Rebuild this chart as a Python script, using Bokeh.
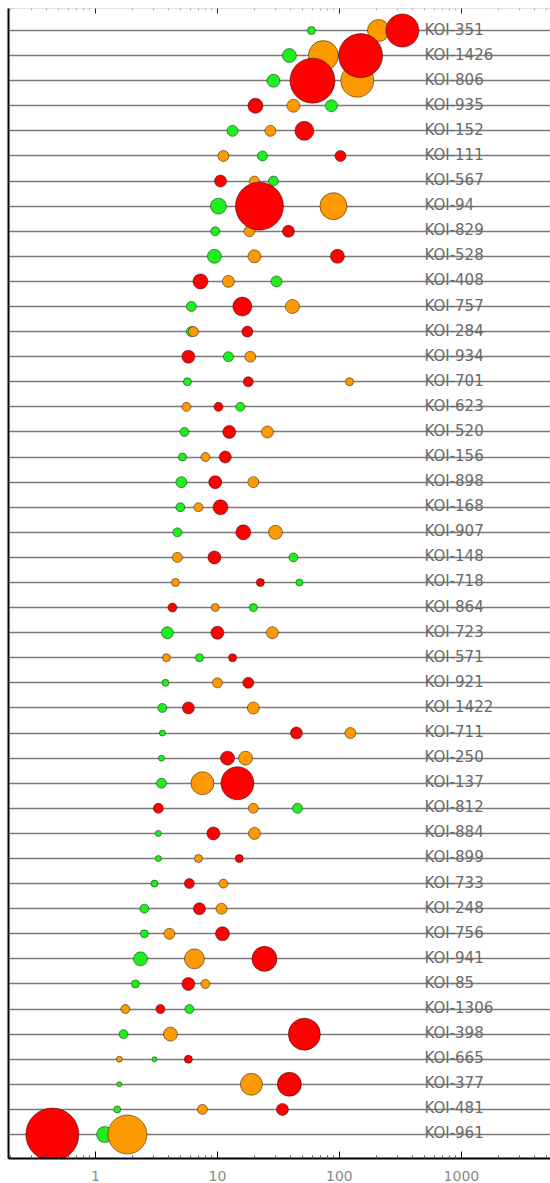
from bokeh.plotting import figure
from bokeh.models import FixedTicker, LogAxis, Range1d
from bokeh.core.properties import value
from bokeh.embed import file_html
from bokeh.resources import INLINE

# Rows, top to bottom
koi = ["KOI-351", "KOI-1426", "KOI-806", "KOI-935", "KOI-152", "KOI-111", "KOI-567",
       "KOI-94", "KOI-829", "KOI-528", "KOI-408", "KOI-757", "KOI-284", "KOI-934",
       "KOI-701", "KOI-623", "KOI-520", "KOI-156", "KOI-898", "KOI-168", "KOI-907",
       "KOI-148", "KOI-718", "KOI-864", "KOI-723", "KOI-571", "KOI-921", "KOI-1422",
       "KOI-711", "KOI-250", "KOI-137", "KOI-812", "KOI-884", "KOI-899", "KOI-733",
       "KOI-248", "KOI-756", "KOI-941", "KOI-85", "KOI-1306", "KOI-398", "KOI-665",
       "KOI-377", "KOI-481", "KOI-961"]

green_x = [58.9, 38.9, 28.8, 86.0, 13.3, 23.4, 28.8, 10.2, 9.6, 9.45, 30.5, 6.12, 6.12,
           12.3, 5.68, 15.4, 5.37, 5.17, 5.07, 4.97, 4.70, 42.0, 47.0, 19.7, 3.89, 7.12,
           3.75, 3.54, 3.54, 3.48, 3.48, 45.3, 3.28, 3.28, 3.05, 2.52, 2.52, 2.34, 2.13,
           5.89, 1.70, 3.05, 1.57, 1.51, 1.19]
green_mag = [8, 14, 13, 12, 11, 10, 10, 16, 9, 14, 11, 10, 10, 10, 8, 9, 9, 8, 11, 9, 9,
             9, 7, 8, 12, 8, 7, 9, 6, 6, 10, 10, 6, 6, 7, 9, 8, 14, 8, 9, 9, 5, 5, 7, 16]

orange_x = [209, 73.9, 140, 42.0, 27.2, 11.2, 20.1, 89.3, 18.3, 20.1, 12.3, 41.2, 6.36,
            18.6, 121, 5.57, 25.7, 7.97, 19.7, 6.99, 29.9, 4.70, 4.53, 9.6, 28.2, 3.82,
            10.0, 19.7, 123, 17.0, 7.54, 19.7, 20.1, 6.99, 11.2, 10.8, 4.04, 6.48, 7.97,
            1.76, 4.12, 1.57, 19.0, 7.54, 1.83]
orange_mag = [22, 30, 33, 13, 11, 11, 10, 27, 11, 13, 12, 14, 10, 11, 8, 9, 12, 9, 11, 9,
              14, 10, 8, 8, 12, 8, 10, 12, 11, 14, 23, 10, 12, 8, 9, 11, 11, 20, 9, 9, 14,
              6, 22, 10, 39]

red_x = [328, 149, 60.1, 20.5, 51.6, 102, 10.6, 22.1, 38.2, 96.3, 7.26, 16.0, 17.6, 5.78,
         17.9, 10.2, 12.5, 11.6, 9.6, 10.6, 16.3, 9.45, 22.5, 4.28, 10.0, 13.3, 17.9, 5.78,
         44.4, 12.1, 14.6, 3.28, 9.27, 15.1, 5.89, 7.12, 11.0, 24.3, 5.78, 3.41, 51.6,
         5.78, 38.9, 34.1, 0.444]
red_mag = [33, 44, 45, 15, 19, 11, 12, 48, 12, 14, 15, 19, 11, 13, 10, 9, 13, 12, 13, 15,
           15, 13, 8, 9, 13, 8, 11, 12, 12, 14, 33, 10, 13, 8, 10, 12, 14, 25, 13, 9, 32,
           8, 24, 12, 53]

x_major = [1, 10, 100, 1000]
x_tick_labels = ["1", "10", "100", "1000"]

n = len(koi)
assert all(len(a) == n for a in [green_x, green_mag, orange_x, orange_mag, red_x, red_mag])
rows = [n - 1 - i for i in range(n)]

SCALE = 1.0
minor = [m * 10.0 ** e for e in range(-1, 4) for m in range(2, 10) if m * 10.0 ** e < 6000]

p = figure(width=550, height=1183, x_axis_type="log",
           x_range=Range1d(0.194, 5370), y_range=Range1d(-0.957, n - 1 + 0.877),
           output_backend="svg", toolbar_location=None,
           min_border_left=8, min_border_right=0, min_border_top=8, min_border_bottom=0)
p.outline_line_color = None
p.background_fill_color = "white"
p.border_fill_color = "white"

# horizontal row lines
p.xgrid.grid_line_color = None
p.ygrid.ticker = FixedTicker(ticks=rows)
p.ygrid.grid_line_color = "#7a7a7a"
p.ygrid.grid_line_width = 1.6

# left axis (line only)
p.yaxis.ticker = FixedTicker(ticks=rows)
p.yaxis.major_label_overrides = {r: "" for r in rows}
p.yaxis.major_label_text_font_size = "6px"
p.yaxis.major_label_standoff = 0
p.yaxis.major_tick_in = 0
p.yaxis.major_tick_out = 0
p.yaxis.minor_tick_in = 0
p.yaxis.minor_tick_out = 0
p.yaxis.axis_line_color = "black"
p.yaxis.axis_line_width = 2

# bottom axis
ax = p.xaxis[0]
ax.ticker = FixedTicker(ticks=x_major, minor_ticks=minor)
ax.major_label_overrides = {t: s for t, s in zip(x_major, x_tick_labels)}
ax.major_tick_in = 7
ax.major_tick_out = 0
ax.minor_tick_in = 3
ax.minor_tick_out = 0
ax.axis_line_color = "black"
ax.axis_line_width = 2
ax.major_tick_line_color = "black"
ax.minor_tick_line_color = "#555555"
ax.major_label_text_color = "#8a8a8a"
ax.major_label_text_font = "DejaVu Sans"
ax.major_label_text_font_size = "14px"
ax.major_label_standoff = 12

# top axis (ticks only)
top = LogAxis(ticker=FixedTicker(ticks=x_major, minor_ticks=minor))
top.major_label_overrides = {t: "" for t in x_major}
top.major_label_text_font_size = "6px"
top.major_label_standoff = 0
top.major_tick_in = 5
top.major_tick_out = 0
top.minor_tick_in = 2
top.minor_tick_out = 0
top.axis_line_color = "#e0e0e0"
top.major_tick_line_color = "#222222"
top.minor_tick_line_color = "#aaaaaa"
p.add_layout(top, "above")

outline = dict(line_color="black", line_alpha=0.45, line_width=1)
p.scatter(x=green_x, y=rows, size=[m * SCALE for m in green_mag], fill_color="#1ef01e", **outline)
p.scatter(x=orange_x, y=rows, size=[m * SCALE for m in orange_mag], fill_color="#ff9900", **outline)
p.scatter(x=red_x, y=rows, size=[m * SCALE for m in red_mag], fill_color="#ff0000", **outline)

LABEL_X = 497
p.text(x=[LABEL_X] * n, y=rows, text=koi, text_font=value("DejaVu Sans"),
       text_font_size="15px", text_color="#6a6a6a", text_baseline="alphabetic",
       text_align="left", y_offset=-1)

open("out.html", "w").write(file_html(p, INLINE))
